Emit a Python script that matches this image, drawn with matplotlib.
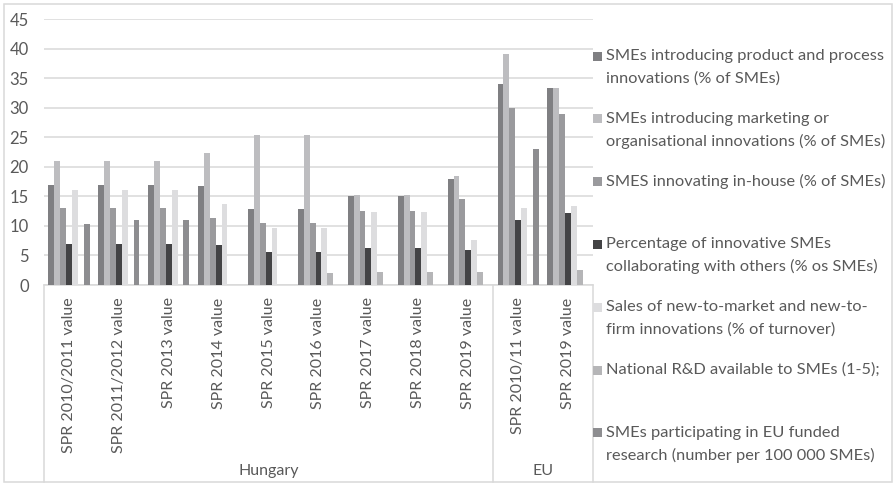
import numpy as np
import matplotlib
matplotlib.use('Agg')
import matplotlib.pyplot as plt
from matplotlib.patches import Rectangle
import matplotlib.transforms as mtransforms

# ---------------------------------------------------------------- data
categories = ['SPR 2010/2011 value', 'SPR 2011/2012 value', 'SPR 2013 value',
              'SPR 2014 value', 'SPR 2015 value', 'SPR 2016 value',
              'SPR 2017 value', 'SPR 2018 value', 'SPR 2019 value',
              'SPR 2010/11 value', 'SPR 2019 value']
groups = ['Hungary', 'EU']
group_sizes = [9, 2]

nan = np.nan
product_process = [17, 17, 17, 16.7, 12.8, 12.8, 15, 15, 17.9, 34, 33.3]
marketing_org = [21, 21, 21, 22.3, 25.3, 25.3, 15.2, 15.2, 18.4, 39, 33.4]
in_house = [13, 13, 13, 11.4, 10.5, 10.5, 12.5, 12.5, 14.5, 30, 28.9]
collaborating = [7, 7, 7, 6.7, 5.6, 5.6, 6.2, 6.2, 5.9, 11, 12.2]
sales_new = [16, 16, 16, 13.7, 9.7, 9.7, 12.4, 12.4, 7.6, 13, 13.4]
national_rd = [nan, nan, nan, nan, nan, 2.1, 2.2, 2.2, 2.2, nan, 2.5]
eu_research = [10.3, 11, 11, nan, nan, nan, nan, nan, nan, 23, nan]

series_labels = [
    ['SMEs introducing product and process', 'innovations (% of SMEs)'],
    ['SMEs introducing marketing or', 'organisational innovations (% of SMEs)'],
    ['SMES innovating in-house (% of SMEs)'],
    ['Percentage of innovative SMEs', 'collaborating with others (% os SMEs)'],
    ['Sales of new-to-market and new-to-', 'firm innovations (% of turnover)'],
    ['National R&D available to SMEs (1-5);'],
    ['SMEs participating in EU funded', 'research (number per 100 000 SMEs)'],
]

# ---------------------------------------------------------------- style
plt.rcParams['font.family'] = ['Lato', 'DejaVu Sans']
text_color = '#595959'
line_color = '#d9d9d9'
colors = ['#7f7f82', '#bdbdc0', '#9a9a9d', '#434345', '#dddddf', '#b5b5b7', '#8d8d90']
fs = 11.5

W, H = 895, 487
fig = plt.figure(figsize=(W / 100, H / 100), dpi=100)

# plot area in pixels
px_left, px_right, px_top, px_bottom = 44, 593, 19, 285
ax = fig.add_axes([px_left / W, 1 - px_bottom / H,
                   (px_right - px_left) / W, (px_bottom - px_top) / H])

all_series = [product_process, marketing_org, in_house, collaborating,
              sales_new, national_rd, eu_research]
n = len(all_series)
bar_w = 1 / 8.5   # gap width 150%
x = np.arange(len(categories))
for i, vals in enumerate(all_series):
    ax.bar(x + (i - (n - 1) / 2) * bar_w, vals, width=bar_w,
           color=colors[i], linewidth=0, zorder=3)

ax.set_xlim(-0.5, len(categories) - 0.5)
ax.set_ylim(0, 45)
ax.set_yticks(np.arange(0, 46, 5))
ax.yaxis.grid(True, color=line_color, linewidth=1.1, zorder=0)
ax.set_xticks(x)
ax.set_xticklabels(categories, rotation=90, va='top', ha='center')
ax.tick_params(axis='x', length=0, pad=9, labelsize=fs, labelcolor=text_color)
ax.tick_params(axis='y', length=0, pad=11, labelsize=12, labelcolor=text_color)
for s in ['left', 'right', 'top']:
    ax.spines[s].set_visible(False)
ax.spines['bottom'].set_color(line_color)
ax.spines['bottom'].set_linewidth(1.1)

# multi-level category axis: separators and group names
ax_h = (px_bottom - px_top) / H
y_end = ((1 - 482 / H) - (1 - px_bottom / H)) / ax_h
trans = mtransforms.blended_transform_factory(ax.transData, ax.transAxes)
edges = np.concatenate([[0], np.cumsum(group_sizes)]) - 0.5
for e in edges:
    ax.plot([e, e], [0, y_end], color=line_color, linewidth=1.1,
            transform=trans, clip_on=False)
y_grp = ((1 - 471 / H) - (1 - px_bottom / H)) / ax_h
for g, a, b in zip(groups, edges[:-1], edges[1:]):
    ax.text((a + b) / 2, y_grp, g, transform=trans, ha='center', va='center',
            fontsize=fs, color=text_color)

# legend on the right, evenly spaced entries
for i, lines in enumerate(series_labels):
    yc = 56 + 62.8 * i
    fig.patches.append(Rectangle((593 / W, 1 - (yc + 4.5) / H), 9 / W, 9 / H,
                                 transform=fig.transFigure, facecolor=colors[i],
                                 edgecolor='none'))
    for j, t in enumerate(lines):
        fig.text(606 / W, 1 - (yc + 22.5 * j) / H, t, ha='left', va='center',
                 fontsize=11.8, color=text_color)

# chart border
fig.patches.append(Rectangle((4 / W, 1 - 482 / H), 888 / W, 478 / H,
                             transform=fig.transFigure, facecolor='none',
                             edgecolor=line_color, linewidth=1.1))

fig.savefig('out.png', dpi=100)
